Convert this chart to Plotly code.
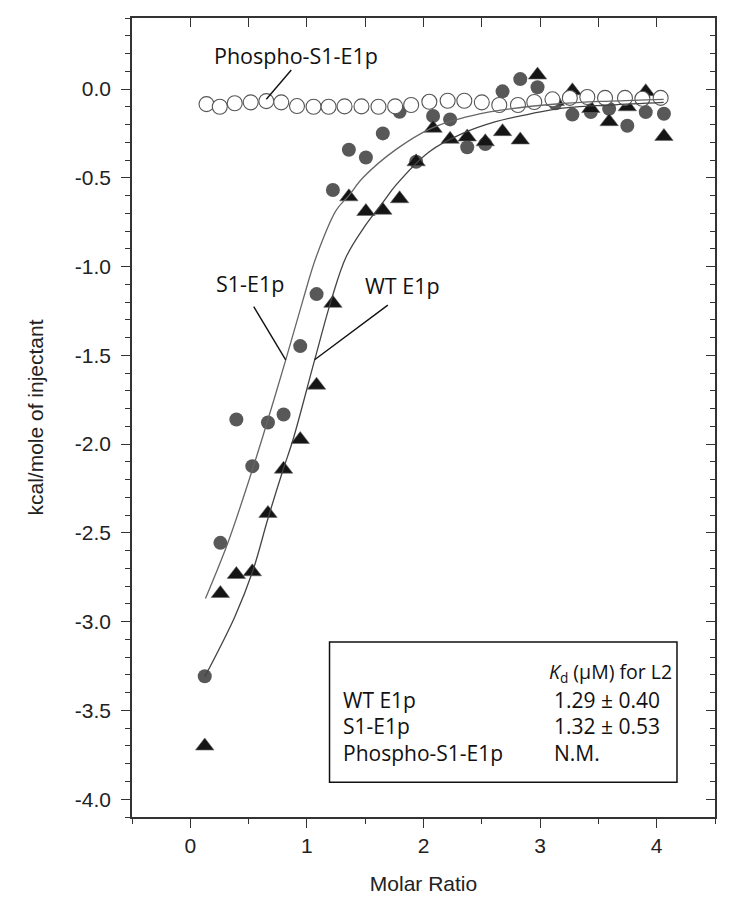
import plotly.graph_objects as go

# ---------------- data ----------------
inj_x = [0.124, 0.258, 0.395, 0.532, 0.666, 0.80, 0.943, 1.083, 1.223, 1.36,
         1.506, 1.651, 1.795, 1.937, 2.082, 2.228, 2.375, 2.53, 2.678, 2.83,
         2.978, 3.13, 3.277, 3.435, 3.592, 3.748, 3.906, 4.062]

s1_y = [-3.307, -2.556, -1.861, -2.124, -1.878, -1.833, -1.448, -1.155, -0.569, -0.342,
        -0.386, -0.25, -0.128, -0.41, -0.152, -0.171, -0.328, -0.31, -0.013, 0.056,
        0.01, -0.08, -0.144, -0.13, -0.111, -0.207, -0.13, -0.139]

wt_y = [-3.70, -2.841, -2.734, -2.719, -2.39, -2.141, -1.974, -1.668, -1.207, -0.607,
        -0.69, -0.683, -0.618, -0.41, -0.221, -0.283, -0.27, -0.297, -0.24, -0.287,
        0.079, -0.07, -0.01, -0.11, -0.184, -0.10, -0.015, -0.267]

phospho_x = [0.139, 0.253, 0.381, 0.518, 0.652, 0.78, 0.915, 1.057, 1.186, 1.323,
             1.468, 1.614, 1.757, 1.894, 2.05, 2.207, 2.35, 2.50, 2.65, 2.81,
             2.95, 3.106, 3.255, 3.405, 3.557, 3.728, 3.877, 4.034]
phospho_y = [-0.085, -0.10, -0.08, -0.075, -0.068, -0.075, -0.096, -0.10, -0.10, -0.098,
             -0.098, -0.10, -0.098, -0.09, -0.072, -0.066, -0.066, -0.075, -0.09, -0.09,
             -0.073, -0.058, -0.05, -0.045, -0.05, -0.05, -0.055, -0.05]

# fitted curves
s1_fit_x = [0.13, 0.32, 0.495, 0.625, 0.818, 0.966, 1.08, 1.252, 1.36, 1.48,
            1.765, 2.07, 2.35, 2.65, 3.164, 3.6, 4.06]
s1_fit_y = [-2.87, -2.56, -2.22, -1.95, -1.527, -1.189, -0.945, -0.682, -0.60, -0.50,
            -0.34, -0.22, -0.16, -0.12, -0.083, -0.068, -0.058]

wt_fit_x = [0.124, 0.381, 0.538, 0.666, 0.795, 0.88, 1.066, 1.209, 1.337, 1.50,
            1.65, 1.765, 2.05, 2.336, 2.62, 2.907, 3.164, 3.6, 4.06]
wt_fit_y = [-3.31, -2.973, -2.71, -2.419, -2.146, -1.977, -1.527, -1.189, -0.945, -0.77,
            -0.64, -0.54, -0.353, -0.25, -0.184, -0.141, -0.11, -0.09, -0.075]

y_tick_vals = [-4.0, -3.5, -3.0, -2.5, -2.0, -1.5, -1.0, -0.5, 0.0]
y_tick_text = ["-4.0", "-3.5", "-3.0", "-2.5", "-2.0", "-1.5", "-1.0", "-0.5", "0.0"]

table_names = ["WT E1p", "S1-E1p", "Phospho-S1-E1p"]
table_values = ["1.29 \u00b1 0.40", "1.32 \u00b1 0.53", "N.M."]

# ---------------- figure ----------------
AX = "#333333"
GRAY = "#585858"
TXT_FONT = "Open Sans"
AX_FONT = "Liberation Sans"

fig = go.Figure()

fig.add_trace(go.Scatter(x=inj_x, y=s1_y, mode="markers", name="S1-E1p",
                         marker=dict(symbol="circle", size=14, color=GRAY,
                                     line=dict(width=0))))
fig.add_trace(go.Scatter(x=inj_x, y=wt_y, mode="markers", name="WT E1p",
                         marker=dict(symbol="triangle-up", size=16, color="#151515",
                                     line=dict(width=0.6, color="#666666"))))
fig.add_trace(go.Scatter(x=phospho_x, y=phospho_y, mode="markers", name="Phospho-S1-E1p",
                         marker=dict(symbol="circle", size=15, color="white",
                                     line=dict(width=1.1, color="#555555"))))
fig.add_trace(go.Scatter(x=s1_fit_x, y=s1_fit_y, mode="lines", name="S1 fit",
                         line=dict(color="#666666", width=1.3, shape="spline", smoothing=1.0)))
fig.add_trace(go.Scatter(x=wt_fit_x, y=wt_fit_y, mode="lines", name="WT fit",
                         line=dict(color="#444444", width=1.3, shape="spline", smoothing=1.0)))
# carrier for the mirrored (top/right) axes
fig.add_trace(go.Scatter(x=[None], y=[None], xaxis="x2", yaxis="y2",
                         showlegend=False, hoverinfo="skip"))

XR = [-0.5, 4.5]
YR = [-4.1, 0.4]

# the page body has an 8 px margin, so the figure is sized to fit inside it
fig.update_layout(
    width=722, height=902,
    margin=dict(l=124, r=15, t=10, b=93),
    paper_bgcolor="white", plot_bgcolor="white",
    showlegend=False,
    xaxis=dict(range=XR, tickmode="linear", tick0=0, dtick=1, automargin=False,
               showgrid=False, zeroline=False,
               showline=True, linecolor=AX, linewidth=1.5,
               ticks="outside", ticklen=9, tickwidth=1.3, tickcolor=AX,
               minor=dict(tickmode="linear", tick0=0, dtick=0.5, ticks="outside",
                          ticklen=5, tickwidth=1.3, tickcolor=AX),
               tickfont=dict(family=AX_FONT, size=21, color="#222"),
               title=dict(text="Molar Ratio", standoff=20,
                          font=dict(family=AX_FONT, size=21, color="#222"))),
    yaxis=dict(range=YR, tickmode="array", tickvals=y_tick_vals, ticktext=y_tick_text,
               automargin=False,
               showgrid=False, zeroline=False,
               showline=True, linecolor=AX, linewidth=1.5,
               ticks="outside", ticklen=9, tickwidth=1.3, tickcolor=AX,
               minor=dict(tickmode="linear", tick0=0, dtick=0.1, ticks="outside",
                          ticklen=5, tickwidth=1.3, tickcolor=AX),
               tickfont=dict(family=AX_FONT, size=21, color="#222"),
               ticklabelstandoff=6,
               title=dict(text="kcal/mole of injectant", standoff=26,
                          font=dict(family=AX_FONT, size=21, color="#222"))),
    xaxis2=dict(range=XR, overlaying="x", side="top", anchor="y2",
                tickmode="linear", tick0=0, dtick=1, showticklabels=False,
                showgrid=False, zeroline=False,
                showline=True, linecolor=AX, linewidth=1.5,
                ticks="inside", ticklen=9, tickwidth=1.3, tickcolor=AX,
                minor=dict(tickmode="linear", tick0=0, dtick=0.5, ticks="inside",
                           ticklen=9, tickwidth=1.3, tickcolor=AX)),
    yaxis2=dict(range=YR, overlaying="y", side="right", anchor="x2",
                tickmode="array", tickvals=y_tick_vals, showticklabels=False,
                showgrid=False, zeroline=False,
                showline=True, linecolor=AX, linewidth=1.5,
                ticks="inside", ticklen=9, tickwidth=1.3, tickcolor=AX,
                minor=dict(tickmode="linear", tick0=0, dtick=0.1, ticks="inside",
                           ticklen=5, tickwidth=1.3, tickcolor=AX)),
)

# ---- curve labels and leader lines ----
lab_font = dict(family=TXT_FONT, size=21.5, color="#111")
fig.add_annotation(x=0.909, y=0.19, xref="x", yref="y", text="Phospho-S1-E1p",
                   showarrow=False, font=lab_font, xanchor="center", yanchor="middle")
fig.add_annotation(x=0.509, y=-1.093, xref="x", yref="y", text="S1-E1p",
                   showarrow=False, font=lab_font, xanchor="center", yanchor="middle")
fig.add_annotation(x=1.819, y=-1.104, xref="x", yref="y", text="WT E1p",
                   showarrow=False, font=lab_font, xanchor="center", yanchor="middle")

leader = dict(color="#111", width=1.4)
fig.add_shape(type="line", xref="x", yref="y", x0=0.866, y0=0.107, x1=0.652, y1=-0.058, line=leader)
fig.add_shape(type="line", xref="x", yref="y", x0=0.544, y0=-1.226, x1=0.818, y1=-1.525, line=leader)
fig.add_shape(type="line", xref="x", yref="y", x0=1.694, y0=-1.217, x1=1.066, y1=-1.525, line=leader)

# ---- Kd table box ----
tab_font = dict(family=TXT_FONT, size=21, color="#111")
fig.add_shape(type="rect", xref="x", yref="y", x0=1.194, y0=-3.904, x1=4.174, y1=-3.115,
              line=dict(color="#111", width=1.5), fillcolor="rgba(0,0,0,0)")
fig.add_annotation(x=4.147, y=-3.285, xref="x", yref="y",
                   text="<i>K</i><sub>d</sub> (\u03bcM) for L2",
                   showarrow=False, font=dict(family=TXT_FONT, size=19.5, color="#111"),
                   xanchor="right", yanchor="middle")
row_y = [-3.44, -3.59, -3.742]
for name, val, ry in zip(table_names, table_values, row_y):
    fig.add_annotation(x=1.295, y=ry, xref="x", yref="y", text=name, showarrow=False,
                       font=tab_font, xanchor="left", yanchor="middle")
    if val == "N.M.":
        fig.add_annotation(x=3.104, y=ry, xref="x", yref="y", text=val, showarrow=False,
                           font=tab_font, xanchor="left", yanchor="middle")
    else:
        fig.add_annotation(x=4.045, y=ry, xref="x", yref="y", text=val, showarrow=False,
                           font=tab_font, xanchor="right", yanchor="middle")

fig.write_html("out.html")
